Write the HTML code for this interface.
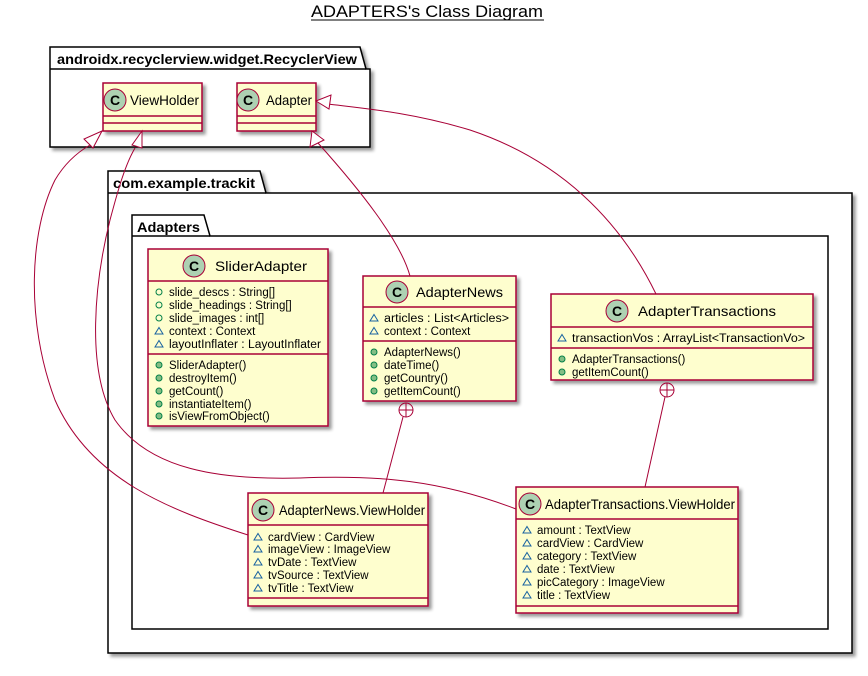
<!DOCTYPE html>
<html><head><meta charset="utf-8"><style>
html,body{margin:0;padding:0;background:#fff;}
svg{display:block;}
text{font-family:"Liberation Sans",sans-serif;}
</style></head><body>
<svg width="868" height="676" viewBox="0 0 868 676" xmlns="http://www.w3.org/2000/svg">
<defs>
<filter id="sh" x="-10%" y="-10%" width="130%" height="130%"><feGaussianBlur in="SourceAlpha" stdDeviation="1.5"/><feOffset dx="3" dy="3"/><feComponentTransfer><feFuncA type="linear" slope="0.4"/></feComponentTransfer><feMerge><feMergeNode/><feMergeNode in="SourceGraphic"/></feMerge></filter>
<g id="pub"><circle r="3" fill="none" stroke="#038048" stroke-width="1"/></g>
<g id="met"><circle r="3" fill="#84BE84" stroke="#038048" stroke-width="1"/></g>
<g id="pkg"><polygon points="0,-3.5 4,3 -4,3" fill="none" stroke="#1963A0" stroke-width="1"/></g>
</defs>

<text x="311" y="17" font-size="17" textLength="232" lengthAdjust="spacingAndGlyphs">ADAPTERS's Class Diagram</text>
<line x1="311" y1="20" x2="544" y2="20" stroke="#000" stroke-width="1"/>

<g filter="url(#sh)" fill="#fff" stroke="#000" stroke-width="1.5">
<path d="M50,69 L50,47 L360,47 L366,69 L370,69 L370,147 L50,147 Z"/>
<line x1="50" y1="69" x2="366" y2="69"/>
<path d="M108,193 L108,171 L260,171 L266,193 L852,193 L852,653 L108,653 Z"/>
<line x1="108" y1="193" x2="266" y2="193"/>
<path d="M132,236 L132,215 L204,215 L210,236 L828,236 L828,629 L132,629 Z"/>
<line x1="132" y1="236" x2="210" y2="236"/>
</g>
<g font-size="14" font-weight="bold" lengthAdjust="spacingAndGlyphs">
<text x="57" y="64" textLength="300" lengthAdjust="spacingAndGlyphs">androidx.recyclerview.widget.RecyclerView</text>
<text x="113" y="188" textLength="142" lengthAdjust="spacingAndGlyphs">com.example.trackit</text>
<text x="137" y="232" textLength="63" lengthAdjust="spacingAndGlyphs">Adapters</text>
</g>

<g filter="url(#sh)" fill="#FEFECE" stroke="#A80036" stroke-width="1.5">
<rect x="103" y="83" width="99" height="48"/>
<rect x="237" y="83" width="79" height="48"/>
<rect x="148" y="249" width="180" height="177"/>
<rect x="363" y="276" width="153" height="125"/>
<rect x="551" y="294" width="262" height="86"/>
<rect x="248" y="493" width="180" height="113"/>
<rect x="516" y="487" width="222" height="126"/>
</g>
<g stroke="#A80036" stroke-width="1.5">
<line x1="103" y1="116" x2="202" y2="116"/><line x1="103" y1="123" x2="202" y2="123"/>
<line x1="237" y1="116" x2="316" y2="116"/><line x1="237" y1="123" x2="316" y2="123"/>
<line x1="148" y1="281" x2="328" y2="281"/><line x1="148" y1="354" x2="328" y2="354"/>
<line x1="363" y1="307" x2="516" y2="307"/><line x1="363" y1="341" x2="516" y2="341"/>
<line x1="551" y1="327" x2="813" y2="327"/><line x1="551" y1="348" x2="813" y2="348"/>
<line x1="248" y1="525" x2="428" y2="525"/><line x1="248" y1="598" x2="428" y2="598"/>
<line x1="516" y1="519" x2="738" y2="519"/><line x1="516" y1="606" x2="738" y2="606"/>
</g>

<g fill="#ADD1B2" stroke="#A80036" stroke-width="1">
<circle cx="115" cy="100" r="11"/><circle cx="248" cy="100" r="11"/>
<circle cx="194" cy="266" r="11"/><circle cx="397" cy="292" r="11"/>
<circle cx="617" cy="311" r="11"/><circle cx="263" cy="510" r="11"/>
<circle cx="530" cy="504" r="11"/>
</g>
<g font-size="14" font-weight="bold" text-anchor="middle">
<text x="115" y="105">C</text><text x="248" y="105">C</text><text x="194" y="271">C</text>
<text x="397" y="297">C</text><text x="617" y="316">C</text><text x="263" y="515">C</text><text x="530" y="509">C</text>
</g>
<g font-size="14">
<text x="130" y="105" textLength="69" lengthAdjust="spacingAndGlyphs">ViewHolder</text>
<text x="266" y="105" textLength="46" lengthAdjust="spacingAndGlyphs">Adapter</text>
<text x="215" y="271" textLength="92" lengthAdjust="spacingAndGlyphs">SliderAdapter</text>
<text x="416" y="297" textLength="87" lengthAdjust="spacingAndGlyphs">AdapterNews</text>
<text x="638" y="316" textLength="138" lengthAdjust="spacingAndGlyphs">AdapterTransactions</text>
<text x="279" y="515" textLength="146" lengthAdjust="spacingAndGlyphs">AdapterNews.ViewHolder</text>
<text x="545" y="509" textLength="190" lengthAdjust="spacingAndGlyphs">AdapterTransactions.ViewHolder</text>
</g>

<g font-size="11.5">
<use href="#pub" x="159" y="292"/><text x="169" y="296">slide_descs : String[]</text>
<use href="#pub" x="159" y="305"/><text x="169" y="309">slide_headings : String[]</text>
<use href="#pub" x="159" y="318"/><text x="169" y="322">slide_images : int[]</text>
<use href="#pkg" x="159" y="331"/><text x="169" y="335">context : Context</text>
<use href="#pkg" x="159" y="344"/><text x="169" y="348" textLength="152" lengthAdjust="spacingAndGlyphs">layoutInflater : LayoutInflater</text>
<use href="#met" x="159" y="365"/><text x="169" y="369">SliderAdapter()</text>
<use href="#met" x="159" y="378"/><text x="169" y="382">destroyItem()</text>
<use href="#met" x="159" y="391"/><text x="169" y="395">getCount()</text>
<use href="#met" x="159" y="404"/><text x="169" y="408">instantiateItem()</text>
<use href="#met" x="159" y="416"/><text x="169" y="420">isViewFromObject()</text>

<use href="#pkg" x="374" y="318"/><text x="384" y="322" textLength="125" lengthAdjust="spacingAndGlyphs">articles : List&lt;Articles&gt;</text>
<use href="#pkg" x="374" y="331"/><text x="384" y="335">context : Context</text>
<use href="#met" x="374" y="352"/><text x="384" y="356">AdapterNews()</text>
<use href="#met" x="374" y="365"/><text x="384" y="369">dateTime()</text>
<use href="#met" x="374" y="378"/><text x="384" y="382">getCountry()</text>
<use href="#met" x="374" y="391"/><text x="384" y="395">getItemCount()</text>

<use href="#pkg" x="562" y="338"/><text x="572" y="342" textLength="233" lengthAdjust="spacingAndGlyphs">transactionVos : ArrayList&lt;TransactionVo&gt;</text>
<use href="#met" x="562" y="359"/><text x="572" y="363">AdapterTransactions()</text>
<use href="#met" x="562" y="372"/><text x="572" y="376">getItemCount()</text>

<use href="#pkg" x="258" y="537"/><text x="268" y="541">cardView : CardView</text>
<use href="#pkg" x="258" y="549"/><text x="268" y="553">imageView : ImageView</text>
<use href="#pkg" x="258" y="562"/><text x="268" y="566">tvDate : TextView</text>
<use href="#pkg" x="258" y="575"/><text x="268" y="579">tvSource : TextView</text>
<use href="#pkg" x="258" y="588"/><text x="268" y="592">tvTitle : TextView</text>

<use href="#pkg" x="527" y="530"/><text x="537" y="534">amount : TextView</text>
<use href="#pkg" x="527" y="543"/><text x="537" y="547">cardView : CardView</text>
<use href="#pkg" x="527" y="556"/><text x="537" y="560">category : TextView</text>
<use href="#pkg" x="527" y="569"/><text x="537" y="573">date : TextView</text>
<use href="#pkg" x="527" y="582"/><text x="537" y="586">picCategory : ImageView</text>
<use href="#pkg" x="527" y="595"/><text x="537" y="599">title : TextView</text>
</g>

<g fill="none" stroke="#A80036" stroke-width="1">
<path d="M410,276 C400,240 360,190 318,143"/>
<path d="M656,294 C620,220 560,160 470,130 C410,112 360,108 328,104"/>
<path d="M248,535 C170,510 90,480 55,400 C25,320 30,230 55,180 C65,163 78,152 90,145"/>
<path d="M516,509 C440,480 380,475 300,478 C220,480 150,470 115,420 C85,370 95,280 110,220 C118,190 125,165 135,148"/>
<path d="M383,493 L403,417"/>
<path d="M645,487 L665,397"/>
<circle cx="406" cy="410" r="7"/><line x1="399" y1="410" x2="413" y2="410"/><line x1="406" y1="403" x2="406" y2="417"/>
<circle cx="667" cy="390" r="7"/><line x1="660" y1="390" x2="674" y2="390"/><line x1="667" y1="383" x2="667" y2="397"/>
</g>
<g fill="#fff" stroke="#A80036" stroke-width="1">
<polygon points="312,131 310,147 324,140"/>
<polygon points="316,101 331,95 329,109"/>
<polygon points="102,131 84,139 93,148"/>
<polygon points="142,131 132,145 142,148"/>
</g>
</svg>
</body></html>
